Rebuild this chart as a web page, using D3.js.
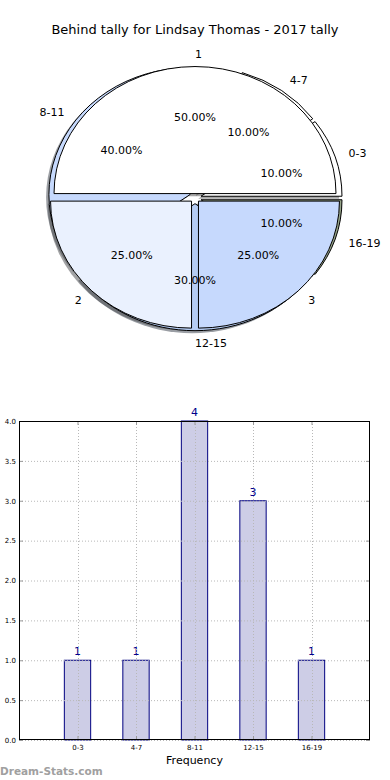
<!DOCTYPE html>
<html><head><meta charset="utf-8">
<script src="https://cdn.jsdelivr.net/npm/d3@7"></script>
<style>body{margin:0;background:#fff}svg{display:block}text{font-family:"DejaVu Sans",sans-serif}</style>
</head><body><svg id="c" width="390" height="780"></svg>
<script>
const title = "Behind tally for Lindsay Thomas - 2017 tally";
// outer (drawn on top) pie
const pieALabels = ["1", "2", "3"];
const pieAValues = [50, 25, 25];
const pieAColors = ["#ffffff", "#eaf1fe", "#c6d9fd"];
// underlying pie
const pieBLabels = ["0-3", "4-7", "8-11", "12-15", "16-19"];
const pieBValues = [1, 1, 4, 3, 1];
const pieBColors = ["#ffffff", "#ffffff", "#c6d9fd", "#b5ccf3", "#97a58a"];
// bar chart
const barCategories = ["0-3", "4-7", "8-11", "12-15", "16-19"];
const barValues = [1, 1, 4, 3, 1];
const yTicks = [0, 0.5, 1, 1.5, 2, 2.5, 3, 3.5, 4];

const svg = d3.select("#c");
svg.append("text").attr("x", 195).attr("y", 34).attr("text-anchor", "middle")
  .attr("font-size", 13).text(title);

// ---------- pie ----------
const cx = 195, cy = 198, rx = 141, ry = 127, sy = ry / rx;
const pieGen = d3.pie().sort(null).startAngle(Math.PI / 2).endAngle(Math.PI / 2 - 2 * Math.PI);
const arc = d3.arc().innerRadius(0).outerRadius(rx);
function prep(vals, labels, colors, explode) {
  const tot = d3.sum(vals);
  return pieGen(vals).map((d, i) => {
    const m = (d.startAngle + d.endAngle) / 2;
    return {d, label: labels[i], color: colors[i], pct: (vals[i] / tot * 100).toFixed(2) + "%",
      ux: Math.sin(m), uy: -Math.cos(m), e: explode};
  });
}
const pieB = prep(pieBValues, pieBLabels, pieBColors, 6.3);
const pieA = prep(pieAValues, pieALabels, pieAColors, 4.9);
const g = svg.append("g");
function shade(c) { const k = d3.rgb(c); return d3.rgb(k.r * 0.3, k.g * 0.3, k.b * 0.3).toString(); }
const sdx = -0.02 * rx, sdy = 0.02 * ry;
// shadows first (lower z-order), then wedges
[pieB, pieA].forEach(P => P.forEach(s => {
  g.append("path").attr("d", arc(s.d))
    .attr("transform", `translate(${cx + s.ux * s.e + sdx},${cy + s.uy * s.e * sy + sdy}) scale(1,${sy})`)
    .attr("fill", shade(s.color)).attr("fill-opacity", 0.5);
}));
[pieB, pieA].forEach(P => P.forEach(s => {
  g.append("path").attr("d", arc(s.d))
    .attr("transform", `translate(${cx + s.ux * s.e},${cy + s.uy * s.e * sy}) scale(1,${sy})`)
    .attr("fill", s.color).attr("stroke", "#000").attr("stroke-width", 1)
    .attr("vector-effect", "non-scaling-stroke").attr("stroke-linejoin", "round");
}));
[pieB, pieA].forEach(P => P.forEach(s => {
  const lx = cx + s.ux * (1.1 * rx + s.e), ly = cy + s.uy * (1.1 * rx + s.e) * sy;
  svg.append("text").attr("x", lx).attr("y", ly).attr("dy", "0.35em")
    .attr("text-anchor", s.ux > -1e-6 ? "start" : "end").attr("font-size", 11).text(s.label);
  const px = cx + s.ux * (0.6 * rx + s.e), py = cy + s.uy * (0.6 * rx + s.e) * sy;
  svg.append("text").attr("x", px).attr("y", py).attr("dy", "0.35em")
    .attr("text-anchor", "middle").attr("font-size", 11).text(s.pct);
}));

// ---------- bar chart ----------
const L = 19, R = 370, T = 421, B = 740;
const x = d3.scaleLinear().domain([0, 6]).range([L, R]);
const y = d3.scaleLinear().domain([0, 4]).range([B, T]);
const bw = 0.45;
const bars = svg.append("g");
barValues.forEach((v, i) => {
  bars.append("rect").attr("x", x(i + 1 - bw / 2)).attr("y", y(v))
    .attr("width", x(bw) - x(0)).attr("height", y(0) - y(v))
    .attr("fill", "#cdcde6").attr("stroke", "#000080").attr("stroke-width", 1);
  bars.append("text").attr("x", x(i + 1)).attr("y", y(v) - 5).attr("text-anchor", "middle")
    .attr("font-size", 11).attr("fill", "#00008b").text(v);
});
// grid
const grid = svg.append("g").attr("stroke", "#b8b8b8").attr("stroke-width", 1).attr("stroke-dasharray", "1,2");
yTicks.forEach(t => grid.append("line").attr("x1", L).attr("x2", R).attr("y1", y(t) + 0.5).attr("y2", y(t) + 0.5));
barCategories.forEach((c, i) => grid.append("line").attr("x1", Math.round(x(i + 1)) + 0.5).attr("x2", Math.round(x(i + 1)) + 0.5).attr("y1", T).attr("y2", B));
// axes via d3
const yAx = svg.append("g").attr("transform", `translate(${L},0)`)
  .call(d3.axisLeft(y).tickValues(yTicks).tickFormat(d3.format(".1f")).tickSizeInner(-4).tickSizeOuter(0).tickPadding(3));
const yAxR = svg.append("g").attr("transform", `translate(${R},0)`)
  .call(d3.axisRight(y).tickValues(yTicks).tickFormat("").tickSizeInner(-4).tickSizeOuter(0));
const xAx = svg.append("g").attr("transform", `translate(0,${B})`)
  .call(d3.axisBottom(x).tickValues([1, 2, 3, 4, 5]).tickFormat((d, i) => barCategories[i]).tickSizeInner(-4).tickSizeOuter(0).tickPadding(5));
const xAxT = svg.append("g").attr("transform", `translate(0,${T})`)
  .call(d3.axisTop(x).tickValues([1, 2, 3, 4, 5]).tickFormat("").tickSizeInner(-4).tickSizeOuter(0));
[yAx, yAxR, xAx, xAxT].forEach(a => {
  a.select(".domain").remove();
  a.selectAll("line").attr("stroke", "#999");
  a.selectAll("text").attr("font-size", 7).attr("font-family", "DejaVu Sans, sans-serif").attr("fill", "#000");
});
svg.append("rect").attr("x", L + 0.5).attr("y", T + 0.5).attr("width", R - L - 1).attr("height", B - T - 1)
  .attr("fill", "none").attr("stroke", "#000").attr("stroke-width", 1);
svg.append("text").attr("x", (L + R) / 2).attr("y", 764).attr("text-anchor", "middle").attr("font-size", 11).text("Frequency");
svg.append("text").attr("x", 0).attr("y", 775).attr("font-size", 10.5).attr("font-weight", "bold").attr("fill", "#a0a0a0").text("Dream-Stats.com");
</script></body></html>
